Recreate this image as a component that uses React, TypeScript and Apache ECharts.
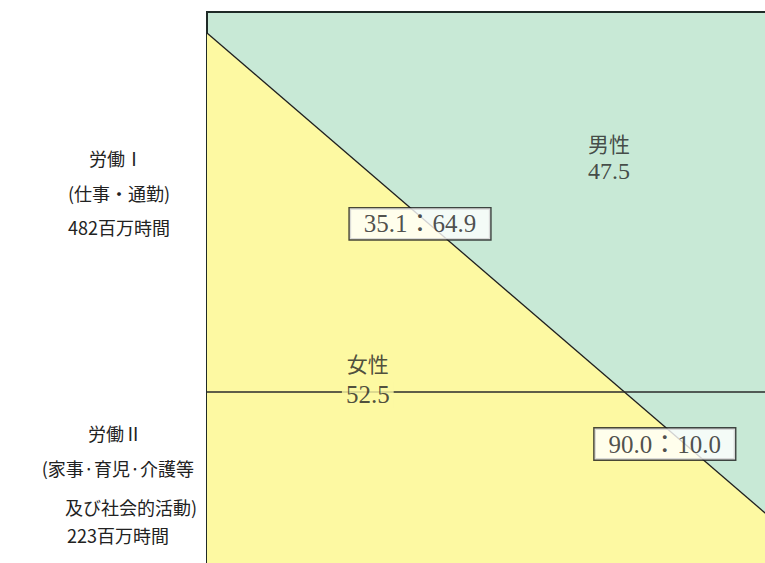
import React, { useEffect, useRef } from 'react';
import * as echarts from 'echarts';

// ---- data ----
const laborCategories = ['労働Ⅰ', '労働Ⅱ'];
const laborDetails = [['(仕事・通勤)'], ['(家事·育児·介護等', '及び社会的活動)']];
const laborHours = [482, 223]; // 百万時間
const femaleShare = [35.1, 90.0];
const maleShare = [64.9, 10.0];
const sexNames = ['女性', '男性'];
const sexTotals = [52.5, 47.5];
// stylised boundary between 女性 (lower-left) and 男性 (upper-right)
const boundaryX = [0, 100];
const boundaryY = [96.5, 10.5];
const dividerLevel = 36.67; // boundary between 労働Ⅰ (above) and 労働Ⅱ (below)

const YELLOW = '#fdf9a2';
const GREEN = '#c8e9d6';
const INK = '#222222';
const SERIF = '"Liberation Serif", "Noto Sans CJK JP", serif';
const SANS = '"Noto Sans CJK JP", sans-serif';

export default function App() {
  const ref = useRef<HTMLDivElement>(null);
  useEffect(() => {
    if (!ref.current) return;
    const chart = echarts.init(ref.current, undefined, { renderer: 'svg' });

    const boxPos = [
      [35.5, 64.7],
      [76.3, 28.0],
    ];
    const sexPos = [
      [26.8, 41.5],
      [67.0, 75.8],
    ];

    const leftLines: any[] = [];
    const blockLayout = [
      [
        { x: 116, y: 158, align: 'center' },
        { x: 119, y: 193, align: 'center' },
        { x: 119, y: 227, align: 'center' },
      ],
      [
        { x: 115, y: 433, align: 'center' },
        { x: 194, y: 468, align: 'right' },
        { x: 197, y: 507, align: 'right' },
        { x: 118, y: 535, align: 'center' },
      ],
    ];
    laborCategories.forEach((cat, i) => {
      const lines = [cat, ...laborDetails[i], `${laborHours[i]}百万時間`];
      lines.forEach((t, j) => {
        const p = blockLayout[i][j];
        leftLines.push({
          type: 'text',
          x: p.x,
          y: p.y,
          style: {
            text: t,
            fill: INK,
            font: `18px ${SANS}`,
            align: p.align,
            verticalAlign: 'middle',
          },
        });
      });
    });

    const option: any = {
      animation: false,
      grid: {
        left: 207,
        top: 12,
        width: 600,
        height: 600,
        show: true,
        backgroundColor: GREEN,
        borderColor: '#1f2a27',
        borderWidth: 2,
      },
      xAxis: { type: 'value', min: 0, max: 100, show: false },
      yAxis: { type: 'value', min: 0, max: 100, show: false },
      series: [
        {
          type: 'line',
          z: 2,
          symbol: 'none',
          data: boundaryX.map((x, i) => [x, boundaryY[i]]),
          lineStyle: { color: '#1f1f1f', width: 1.3 },
          areaStyle: { color: YELLOW, opacity: 1, origin: 'start' },
        },
        {
          type: 'line',
          z: 3,
          symbol: 'none',
          data: [
            [0, dividerLevel],
            [100, dividerLevel],
          ],
          lineStyle: { color: '#2a2a2a', width: 1.3 },
        },
        {
          type: 'scatter',
          z: 10,
          symbolSize: 0,
          data: femaleShare.map((f, i) => ({
            value: boxPos[i],
            label: {
              show: true,
              position: 'inside',
              formatter: `${f.toFixed(1)}：${maleShare[i].toFixed(1)}`,
              fontFamily: SERIF,
              fontSize: 25,
              color: INK,
              backgroundColor: '#ffffff',
              borderColor: '#1a1a1a',
              borderWidth: 1.4,
              padding: [3, 14, 1, 14],
              lineHeight: 27,
            },
          })),
        },
        {
          type: 'scatter',
          z: 10,
          symbolSize: 0,
          data: [
            {
              value: sexPos[1],
              label: {
                show: true,
                position: 'inside',
                formatter: `{n|${sexNames[1]}}\n{v|${sexTotals[1].toFixed(1)}}`,
                rich: {
                  n: { fontFamily: SANS, fontSize: 21, color: INK, lineHeight: 28 },
                  v: { fontFamily: SERIF, fontSize: 24, color: INK, lineHeight: 28 },
                },
              },
            },
            {
              value: sexPos[0],
              label: {
                show: true,
                position: 'inside',
                formatter: sexNames[0],
                fontFamily: SANS,
                fontSize: 21,
                color: INK,
              },
            },
            {
              value: [sexPos[0][0], dividerLevel],
              label: {
                show: true,
                position: 'inside',
                offset: [0, 3],
                formatter: sexTotals[0].toFixed(1),
                fontFamily: SERIF,
                fontSize: 25,
                color: INK,
                backgroundColor: YELLOW,
                padding: [0, 4, 0, 4],
              },
            },
          ],
        },
      ],
      graphic: leftLines,
    };
    chart.setOption(option);
    return () => chart.dispose();
  }, []);
  return (
    <div
      ref={ref}
      style={{ position: 'fixed', left: 0, top: 0, width: 830, height: 630, background: '#fff' }}
    />
  );
}
